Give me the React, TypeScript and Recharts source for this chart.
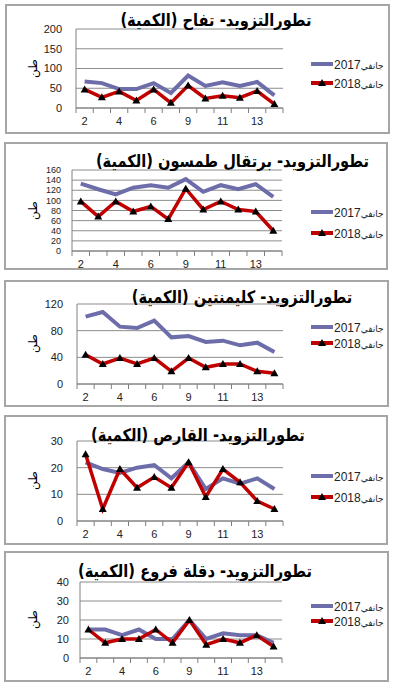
import { CartesianGrid, Line, LineChart, XAxis, YAxis } from "recharts"

const weeks = ['2', '3', '4', '5', '6', '8', '9', '10', '11', '12', '13', '14'];

const apple2017 = [67, 63, 48, 48, 63, 38, 82, 56, 65, 56, 66, 32];
const apple2018 = [47, 27, 42, 19, 47, 13, 57, 24, 31, 26, 43, 10];
const orange2017 = [133, 122, 112, 125, 130, 125, 142, 117, 130, 122, 132, 107];
const orange2018 = [98, 68, 98, 78, 88, 63, 123, 82, 98, 82, 78, 40];
const clem2017 = [101, 108, 86, 84, 95, 70, 72, 63, 65, 58, 62, 48];
const clem2018 = [44, 30, 39, 30, 39, 19, 39, 25, 30, 30, 19, 16];
const lemon2017 = [22, 19.5, 18, 20, 21, 16, 22, 12, 16, 14, 16, 12];
const lemon2018 = [25, 4.5, 19.5, 12.5, 16.5, 12.5, 22, 9, 19.5, 14.5, 7.5, 4.5];
const dates2017 = [15, 15, 12, 15, 10, 10, 20, 10, 13, 12, 12, 8];
const dates2018 = [15, 8, 10, 10, 15, 8, 20, 7, 10, 8, 12, 6];

const appleTicks = [0, 50, 100, 150, 200];
const orangeTicks = [0, 20, 40, 60, 80, 100, 120, 140, 160];
const clemTicks = [0, 40, 80, 120];
const lemonTicks = [0, 10, 20, 30];
const datesTicks = [0, 10, 20, 30, 40];

const label2017 = 'جانفي2017';
const label2018 = 'جانفي2018';
const unit = 'طن';

const C2017 = '#6D6DAA';
const C2018 = '#C00000';
const FONT = '"Liberation Sans", Arial, "DejaVu Sans", sans-serif';

const toRows = (a: number[], b: number[]) =>
  weeks.map((w, i) => ({ week: w, y2017: a[i], y2018: b[i] }));

interface Panel {
  title: string;
  a: number[];
  b: number[];
  ticks: number[];
  box: [number, number, number, number]; // left, top, right, bottom
  plot: [number, number, number, number]; // left, top, right, bottom
  titleX: number;
  titleY: number;
  legendY: [number, number];
  tickGap: number;
  tickFont: number;
}

const panels: Panel[] = [
  { title: 'تطورالتزويد- تفاح (الكمية)', a: apple2017, b: apple2018, ticks: appleTicks,
    box: [5, 4, 390, 134], plot: [76, 29, 283, 108], titleX: 216, titleY: 20, legendY: [64, 83], tickGap: 8, tickFont: 11 },
  { title: 'تطورالتزويد- برتقال طمسون (الكمية)', a: orange2017, b: orange2018, ticks: orangeTicks,
    box: [4, 142, 388, 270], plot: [72, 170, 282, 251], titleX: 240, titleY: 161, legendY: [212, 233], tickGap: 5, tickFont: 9 },
  { title: 'تطورالتزويد- كليمنتين (الكمية)', a: clem2017, b: clem2018, ticks: clemTicks,
    box: [4, 280, 389, 407], plot: [77, 304, 283, 384], titleX: 242, titleY: 297, legendY: [327, 343], tickGap: 8, tickFont: 11 },
  { title: 'تطورالتزويد- القارص (الكمية)', a: lemon2017, b: lemon2018, ticks: lemonTicks,
    box: [4, 415, 388, 545], plot: [77, 441, 283, 521], titleX: 198, titleY: 435, legendY: [476, 497], tickGap: 8, tickFont: 11 },
  { title: 'تطورالتزويد- دقلة فروع (الكمية)', a: dates2017, b: dates2018, ticks: datesTicks,
    box: [4, 551, 389, 682], plot: [80, 582, 282, 658], titleX: 195, titleY: 571, legendY: [606, 621], tickGap: 5, tickFont: 11 },
];

const Triangle = (props: any) => {
  const { cx, cy } = props;
  if (cx == null || cy == null) return null;
  return <polygon points={`${cx},${cy - 4} ${cx - 4},${cy + 3} ${cx + 4},${cy + 3}`} fill="#000" />;
};

const makeXTick = (step: number, count: number) => (props: any) => {
  const { x, y, payload, index } = props;
  const axisY = y - 9;
  return (
    <g>
      <line x1={x - step / 2} x2={x - step / 2} y1={axisY} y2={axisY + 5} stroke="#808080" />
      {index === count - 1 && (
        <line x1={x + step / 2} x2={x + step / 2} y1={axisY} y2={axisY + 5} stroke="#808080" />
      )}
      {index % 2 === 0 && (
        <text x={x} y={y} dy="0.71em" textAnchor="middle" fontSize={11} fill="#222" fontFamily={FONT}>
          {payload.value}
        </text>
      )}
    </g>
  );
};

const LegendRow = ({ label, color, marker, top }: { label: string; color: string; marker: boolean; top: number }) => (
  <div style={{ position: 'absolute', left: 310, top: top - 7, height: 14, display: 'flex', alignItems: 'center',
    fontFamily: FONT, color: '#222', whiteSpace: 'nowrap' }}>
    <svg width={24} height={10}>
      <line x1={1} x2={23} y1={5} y2={5} stroke={color} strokeWidth={4} />
      {marker && <polygon points="12,1 8,8 16,8" fill="#000" />}
    </svg>
    <span dir="rtl">
      <span style={{ fontSize: 9 }}>{label.slice(0, 5)}</span>
      <span style={{ fontSize: 12 }}>{label.slice(5)}</span>
    </span>
  </div>
);

const ChartPanel = ({ p }: { p: Panel }) => {
  const [bl, bt, br, bb] = p.box;
  const [pl, pt, pr, pb] = p.plot;
  const h = bb - bt;
  const xH = 20;
  const yW = 40;
  const step = (pr - pl) / weeks.length;
  const data = toRows(p.a, p.b);
  const max = p.ticks[p.ticks.length - 1];
  return (
    <>
      <div style={{ position: 'absolute', left: bl, top: bt, width: br - bl, height: bb - bt,
        border: '2px solid #a6a6a6', boxSizing: 'border-box', background: '#fff' }} />
      <div style={{ position: 'absolute', left: 0, top: bt }}>
        <LineChart width={394} height={h} data={data}
          margin={{ top: pt - bt, right: 394 - pr, bottom: bt + h - pb - xH, left: pl - yW }}>
          <CartesianGrid vertical={false} stroke="#8c8c8c" />
          <XAxis dataKey="week" height={xH} interval={0} stroke="#808080" tickLine={false}
            tickSize={5} tickMargin={4} padding={{ left: step / 2, right: step / 2 }}
            tick={makeXTick(step, weeks.length)} />
          <YAxis width={yW} domain={[0, max]} ticks={p.ticks} interval={0} stroke="#808080" tickLine={false}
            tickMargin={p.tickGap} tick={{ fontSize: p.tickFont, fill: '#222', fontFamily: FONT }} />
          <Line type="linear" dataKey="y2017" stroke={C2017} strokeWidth={4} dot={false} isAnimationActive={false} />
          <Line type="linear" dataKey="y2018" stroke={C2018} strokeWidth={3.5} dot={<Triangle />} isAnimationActive={false} />
        </LineChart>
      </div>
      <LegendRow label={label2017} color={C2017} marker={false} top={p.legendY[0]} />
      <LegendRow label={label2018} color={C2018} marker={true} top={p.legendY[1]} />
      <div dir="rtl" style={{ position: 'absolute', left: p.titleX - 150, top: p.titleY - 12, width: 300,
        textAlign: 'center', fontFamily: '"DejaVu Sans", sans-serif', fontWeight: 'bold', fontSize: 17,
        lineHeight: '24px', color: '#000', whiteSpace: 'nowrap', transform: 'scaleX(0.86)' }}>
        {p.title}
      </div>
      <div style={{ position: 'absolute', left: 24, top: (pt + pb) / 2 - 8, width: 18, height: 16,
        transform: 'rotate(-90deg)', fontFamily: FONT, fontSize: 12, textAlign: 'center', lineHeight: '16px' }}>
        {unit}
      </div>
    </>
  );
};

const App = () => (
  <div style={{ position: 'absolute', left: 0, top: 0, width: 394, height: 687, background: '#fff', overflow: 'hidden' }}>
    {panels.map((p, i) => <ChartPanel key={i} p={p} />)}
  </div>
);

export default App
